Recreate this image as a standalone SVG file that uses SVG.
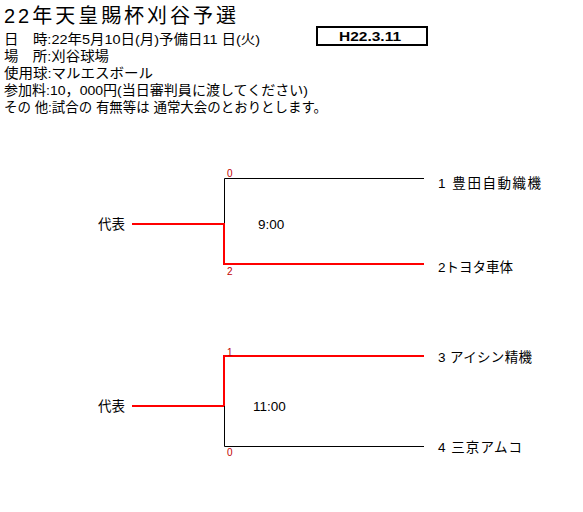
<svg xmlns="http://www.w3.org/2000/svg" width="583" height="512" viewBox="0 0 583 512">
<style>
text{font-family:"Liberation Sans","Noto Sans CJK JP",sans-serif;fill:#000}
.t{font-size:20px}
.h{font-size:13.5px}
.lb{font-size:13.5px}
.sc{font-size:10px;fill:#c00000}
.k{stroke:#000;stroke-width:1;fill:none}
.r{stroke:#ff0000;stroke-width:2;fill:none}
</style>
<rect width="583" height="512" fill="#fff"/>
<g id="header">
<text class="t" x="4" y="23" textLength="232" lengthAdjust="spacing">22年天皇賜杯刈谷予選</text>
<text class="h" x="4" y="44" textLength="256" lengthAdjust="spacingAndGlyphs">日　時:22年5月10日(月)予備日11 日(火)</text>
<text class="h" x="4" y="61" textLength="105" lengthAdjust="spacingAndGlyphs">場　所:刈谷球場</text>
<text class="h" x="4" y="78" textLength="149" lengthAdjust="spacingAndGlyphs">使用球:マルエスボール</text>
<text class="h" x="4" y="95" textLength="304" lengthAdjust="spacingAndGlyphs">参加料:10，000円(当日審判員に渡してください)</text>
<text class="h" x="4" y="112" textLength="323" lengthAdjust="spacingAndGlyphs">その 他:試合の 有無等は 通常大会のとおりとします。</text>
</g>
<g id="date-box">
<rect x="317" y="27" width="110" height="18" fill="none" stroke="#000" stroke-width="2"/>
<text x="339" y="41" font-size="13" font-weight="bold" textLength="62" lengthAdjust="spacingAndGlyphs">H22.3.11</text>
</g>
<g id="connectors">
<path class="k" d="M424 178.5H224.5V224"/>
<path class="r" d="M132 224H224V264H424"/>
<path class="r" d="M424 356H224V406H132"/>
<path class="k" d="M224.5 406V446.5H424"/>
</g>
<g id="team1"><text class="lb" x="438" y="188" textLength="103" lengthAdjust="spacing">1  豊田自動織機</text></g>
<g id="team2"><text class="lb" x="438" y="272" textLength="75" lengthAdjust="spacing">2トヨタ車体</text></g>
<g id="team3"><text class="lb" x="438" y="362" textLength="94" lengthAdjust="spacing">3 アイシン精機</text></g>
<g id="team4"><text class="lb" x="438" y="452" textLength="84" lengthAdjust="spacing">4 三京アムコ</text></g>
<g id="winner1"><text class="lb" x="98" y="229">代表</text></g>
<g id="winner2"><text class="lb" x="98" y="411">代表</text></g>
<g id="match1">
<text class="lb" x="258" y="229" font-size="13">9:00</text>
<text class="sc" x="227" y="177">0</text>
<text class="sc" x="227" y="275">2</text>
</g>
<g id="match2">
<text class="lb" x="253" y="411" font-size="13">11:00</text>
<text class="sc" x="227" y="356">1</text>
<text class="sc" x="227" y="456">0</text>
</g>
</svg>
